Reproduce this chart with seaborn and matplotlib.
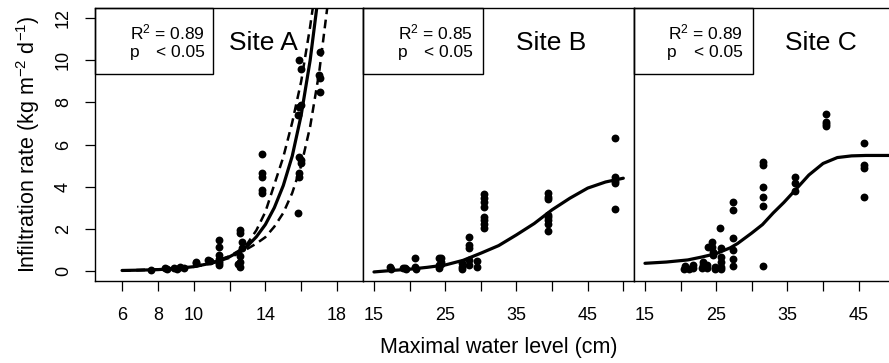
import numpy as np
import pandas as pd
import matplotlib
matplotlib.use("Agg")
import matplotlib.pyplot as plt
import seaborn as sns
from matplotlib.patches import Rectangle

site_a_x = [7.6, 8.4, 8.5, 8.9, 9.05, 9.25, 9.45, 10.1, 10.15, 10.8, 10.9,
            11.4, 11.4, 11.4, 11.4, 11.4, 11.4, 11.4,
            12.6, 12.6, 12.7, 12.7, 12.6, 12.6, 12.6, 12.5,
            13.8, 13.8, 13.8, 13.8, 13.8,
            15.8, 15.85, 15.85, 15.9, 16.0, 16.0, 15.8, 15.9, 16.0, 15.9, 16.0,
            17.05, 17.0, 17.05, 17.05]
site_a_y = [0.05, 0.12, 0.1, 0.15, 0.08, 0.18, 0.12, 0.38, 0.42, 0.52, 0.45,
            1.47, 1.15, 0.76, 0.55, 0.45, 0.37, 0.28,
            1.95, 1.8, 1.35, 1.1, 0.7, 0.4, 0.2, 0.35,
            5.54, 4.64, 4.48, 3.85, 3.69,
            2.77, 4.48, 4.64, 5.43, 5.27, 5.11, 7.41, 7.8, 7.88, 10.02, 9.6,
            10.41, 9.3, 9.15, 8.51]

site_b_x = [17.2, 17.4, 19.1, 19.4, 19.5, 20.7, 20.7, 20.9,
            24.1, 24.4, 24.4, 24.4, 24.1, 24.1,
            27.4, 27.4, 27.4, 28.3, 28.3, 28.3, 28.3, 28.3, 29.4, 29.4,
            30.5, 30.5, 30.5, 30.5, 30.5, 30.5, 30.5, 30.5,
            39.4, 39.4, 39.4, 39.4, 39.4, 39.4, 39.4, 39.4,
            48.85, 48.85, 48.85, 48.85, 48.85]
site_b_y = [0.17, 0.08, 0.12, 0.15, 0.1, 0.63, 0.2, 0.1,
            0.6, 0.6, 0.4, 0.35, 0.15, 0.3,
            0.2, 0.37, 0.08, 1.63, 1.23, 1.08, 0.5, 0.3, 0.45, 0.2,
            3.66, 3.45, 3.29, 3.05, 2.58, 2.42, 2.22, 2.03,
            3.69, 3.53, 3.4, 2.66, 2.55, 2.42, 2.23, 1.87,
            6.3, 4.48, 4.29, 4.19, 2.94]

site_c_x = [20.5, 20.6, 21.2, 21.8, 21.8, 22.95, 23.2, 23.2, 23.65, 23.65,
            23.8, 24.45, 24.45, 24.6, 24.6, 24.8, 24.8,
            25.5, 25.66, 25.66, 25.66, 25.66, 25.66,
            27.4, 27.4, 27.4, 27.4, 27.4, 27.4,
            31.6, 31.6, 31.6, 31.6, 31.6, 31.6,
            36.04, 36.04, 36.04,
            40.4, 40.4, 40.4, 40.4,
            45.7, 45.7, 45.7, 45.7]
site_c_y = [0.1, 0.25, 0.1, 0.13, 0.29, 0.13, 0.29, 0.44, 0.29, 0.13,
            1.15, 1.39, 1.15, 0.92, 0.76, 0.2, 0.1,
            2.03, 1.08, 0.68, 0.44, 0.2, 0.1,
            3.29, 2.9, 1.55, 1.0, 0.56, 0.24,
            5.19, 5.05, 3.97, 3.53, 3.09, 0.24,
            4.45, 4.16, 3.81,
            7.45, 7.09, 6.98, 6.88,
            6.09, 5.03, 4.88, 3.5]

# --- fitted curves ---
fit_a_x = [6.0, 7.0, 8.0, 9.0, 10.0, 11.0, 12.0, 12.5, 13.0, 13.5, 14.0,
           14.5, 15.0, 15.5, 16.0, 16.5, 16.9]
fit_a_y = [0.02, 0.035, 0.06, 0.11, 0.2, 0.37, 0.67, 0.9, 1.18, 1.62, 2.2,
           3.0, 4.05, 5.45, 7.4, 10.0, 12.7]
upper_a_x = [6.0, 8.0, 10.0, 11.0, 12.0, 12.5, 13.0, 13.5, 14.0, 14.5, 15.0,
             15.5, 16.0, 16.5, 16.7]
upper_a_y = [0.02, 0.06, 0.21, 0.39, 0.7, 0.95, 1.3, 1.93, 2.8, 4.1, 5.4,
             7.05, 9.0, 11.6, 12.8]
lower_a_x = [6.0, 8.0, 10.0, 11.0, 12.0, 12.5, 13.0, 13.5, 14.0, 14.5, 15.0,
             15.5, 16.0, 16.5, 17.0, 17.25, 17.5]
lower_a_y = [0.02, 0.06, 0.19, 0.35, 0.62, 0.83, 1.05, 1.3, 1.6, 2.1, 2.75,
             3.7, 5.0, 6.85, 9.4, 11.1, 12.8]

fit_b_x = [15.0, 17.5, 20.0, 22.5, 25.0, 27.5, 30.0, 32.5, 35.0, 37.5, 40.0,
           42.5, 45.0, 47.5, 50.0]
fit_b_y = [-0.05, 0.02, 0.08, 0.17, 0.28, 0.5, 0.84, 1.2, 1.71, 2.25, 2.9,
           3.45, 3.93, 4.22, 4.4]

fit_c_x = [15.0, 18.0, 21.0, 23.0, 25.0, 27.0, 28.0, 30.0, 31.5, 33.0, 34.5,
           36.0, 38.0, 40.0, 42.0, 44.0, 46.0, 52.0]
fit_c_y = [0.36, 0.42, 0.52, 0.66, 0.82, 1.1, 1.3, 1.8, 2.2, 2.75, 3.25,
           3.8, 4.55, 5.1, 5.38, 5.46, 5.48, 5.48]

r2_labels = ["0.89", "0.85", "0.89"]
site_labels = ["Site A", "Site B", "Site C"]

sns.set_style("ticks")
plt.rcParams['font.family'] = ['Liberation Sans', 'DejaVu Sans']
plt.rcParams['mathtext.fontset'] = 'custom'
plt.rcParams['mathtext.rm'] = 'Liberation Sans'
plt.rcParams['mathtext.it'] = 'Liberation Sans:italic'
plt.rcParams['text.color'] = 'black'
plt.rcParams['axes.labelcolor'] = 'black'
plt.rcParams['xtick.color'] = 'black'
plt.rcParams['ytick.color'] = 'black'
plt.rcParams['axes.edgecolor'] = 'black'

W, H = 889, 363
fig = plt.figure(figsize=(W / 100, H / 100), dpi=100)

def px_axes(left, right, top=8, bottom=281):
    return fig.add_axes([left / W, 1 - bottom / H, (right - left) / W, (bottom - top) / H])

axA = px_axes(95, 363)
axB = px_axes(363, 634)
axC = px_axes(634, 905)

line_kw = dict(color="black", lw=2.3, sort=False, estimator=None)
dash_kw = dict(color="black", lw=1.8, sort=False, estimator=None,
               linestyle=(0, (3.5, 2.2)))
pt_kw = dict(color="black", s=32, linewidth=0, zorder=3)

sns.scatterplot(x=site_a_x, y=site_a_y, ax=axA, **pt_kw)
sns.lineplot(x=fit_a_x, y=fit_a_y, ax=axA, **line_kw)
sns.lineplot(x=upper_a_x, y=upper_a_y, ax=axA, **dash_kw)
sns.lineplot(x=lower_a_x, y=lower_a_y, ax=axA, **dash_kw)

sns.scatterplot(x=site_b_x, y=site_b_y, ax=axB, **pt_kw)
sns.lineplot(x=fit_b_x, y=fit_b_y, ax=axB, **line_kw)

sns.scatterplot(x=site_c_x, y=site_c_y, ax=axC, **pt_kw)
sns.lineplot(x=fit_c_x, y=fit_c_y, ax=axC, **line_kw)

axA.set_xlim(4.49, 19.45)
axA.set_xticks(range(6, 19, 2))
axA.set_xticklabels(["6", "8", "10", "", "14", "", "18"])
for ax in (axB, axC):
    ax.set_xlim(13.46, 51.5)
    ax.set_xticks(range(15, 51, 5))
    ax.set_xticklabels(["15", "", "25", "", "35", "", "45", ""])

for ax in (axA, axB, axC):
    ax.set_ylim(-0.48, 12.48)
    for s in ax.spines.values():
        s.set_visible(True)
        s.set_linewidth(1.0)
        s.set_color("black")
    ax.tick_params(axis="x", direction="out", length=7.5, width=0.9,
                   pad=11, labelsize=13, color="black", labelcolor="black")
    ax.set_xlabel("")
    ax.set_ylabel("")

axA.set_yticks(range(0, 13, 2))
axA.tick_params(axis="y", direction="out", length=7.5, width=0.9,
                pad=9, labelsize=13, labelrotation=90, labelcolor="black")
for lab in axA.get_yticklabels():
    lab.set_va("center")
for ax in (axB, axC):
    ax.set_yticks([])

# stats boxes and site names
box_w = [118 / 268, 120 / 271, 119 / 271]
text_r = [0.41, 0.406, 0.403]
p_left = [0.13, 0.13, 0.122]
site_x = [0.627, 0.696, 0.69]
for ax, bw, tr, pl, r2, sx, name in zip((axA, axB, axC), box_w, text_r, p_left,
                                        r2_labels, site_x, site_labels):
    ax.add_patch(Rectangle((0, 1 - 66 / 273), bw, 66 / 273, transform=ax.transAxes,
                           fill=False, edgecolor="black", lw=1.0, clip_on=False))
    ax.text(tr, 0.885, "R$^2$ = " + r2, transform=ax.transAxes, ha="right",
            va="baseline", fontsize=12.5)
    ax.text(pl, 0.819, "p", transform=ax.transAxes, ha="left",
            va="baseline", fontsize=12.5)
    ax.text(tr, 0.819, "< 0.05", transform=ax.transAxes, ha="right",
            va="baseline", fontsize=12.5)
    ax.text(sx, 0.846, name, transform=ax.transAxes, ha="center",
            va="baseline", fontsize=19)

fig.text(28 / W, 1 - 144.5 / H, "Infiltration rate (kg m$^{-2}$ d$^{-1}$)",
         rotation=90, ha="center", va="center", fontsize=15.5)
fig.text(499 / W, 1 - 348 / H, "Maximal water level (cm)",
         ha="center", va="center", fontsize=15.5)

fig.savefig("out.png", dpi=100)
